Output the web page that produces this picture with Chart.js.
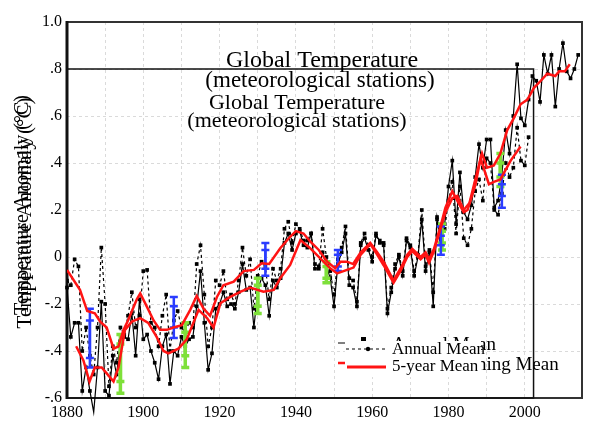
<!DOCTYPE html>
<html>
<head>
<meta charset="utf-8">
<script src="https://cdn.jsdelivr.net/npm/chart.js@4.4.0/dist/chart.umd.min.js"></script>
<style>
  html, body { margin: 0; padding: 0; background: #fff; }
  canvas { display: block; }
</style>
</head>
<body>
<canvas id="tempChart" width="593" height="438"></canvas>
<script>
// Values (old one ends ~2001, new one ~2014)
const firstYear = 1880;

// New chart, annual mean (solid line)
const newAnnual = [
  -0.13, -0.34, -0.28, -0.28, -0.57, -0.47, -0.57, -0.66, -0.47, -0.19,
  -0.57, -0.59, -0.42, -0.50, -0.36, -0.34, -0.35, -0.24, -0.42, -0.18,
  -0.35, -0.33, -0.40, -0.45, -0.52, -0.38, -0.33, -0.54, -0.40, -0.42,
  -0.34, -0.38, -0.35, -0.34, -0.21, -0.06, -0.28, -0.48, -0.41, -0.22,
  -0.20, -0.15, -0.21, -0.20, -0.22, -0.15, -0.03, -0.14, -0.13, -0.30,
  -0.14, -0.09, -0.12, -0.25, -0.10, -0.13, -0.09, 0.06, 0.10, 0.03,
  0.10, 0.11, 0.05, 0.04, 0.10, -0.05, -0.05, 0.02, -0.04, -0.09,
  -0.21, -0.03, 0.02, 0.10, -0.12, -0.13, -0.21, 0.05, 0.08, 0.03,
  -0.02, 0.09, 0.07, 0.05, -0.24, -0.15, -0.05, 0.00, -0.08, 0.07,
  0.04, -0.08, 0.00, 0.16, -0.06, 0.02, -0.21, 0.16, 0.07, 0.14,
  0.30, 0.41, 0.14, 0.36, 0.19, 0.16, 0.22, 0.34, 0.48, 0.38,
  0.50, 0.50, 0.21, 0.24, 0.35, 0.54, 0.44, 0.60, 0.82, 0.59,
  0.56, 0.67, 0.77, 0.75, 0.66, 0.86, 0.78, 0.86, 0.64, 0.80,
  0.91, 0.79, 0.76, 0.80, 0.86
];

// Old chart, annual mean (dashed line)
const oldAnnual = [
  -0.10, -0.12, -0.01, -0.04, -0.40, -0.30, -0.42, -0.50, -0.30, 0.04,
  -0.20, -0.55, -0.38, -0.45, -0.30, -0.33, -0.25, -0.15, -0.30, -0.25,
  -0.06, -0.055, -0.28, -0.30, -0.38, -0.25, -0.16, -0.40, -0.27, -0.23,
  -0.30, -0.32, -0.28, -0.30, -0.03, 0.05, -0.16, -0.38, -0.30, -0.10,
  -0.12, -0.06, -0.18, -0.16, -0.20, -0.10, 0.04, -0.08, -0.01, -0.22,
  -0.08, -0.02, -0.04, -0.18, -0.05, -0.10, -0.05, 0.12, 0.15, 0.06,
  0.14, 0.12, 0.07, 0.07, 0.10, -0.03, -0.04, 0.12, 0.00, -0.06,
  -0.16, -0.01, 0.04, 0.13, -0.09, -0.10, -0.19, 0.06, 0.10, 0.05,
  0.00, 0.10, 0.06, 0.06, -0.22, -0.13, -0.03, 0.01, -0.06, 0.08,
  0.05, -0.06, 0.01, 0.20, -0.04, 0.03, -0.15, 0.17, 0.08, 0.12,
  0.24, 0.32, 0.10, 0.30, 0.08, 0.05, 0.12, 0.28, 0.33, 0.24,
  0.42, 0.40, 0.20, 0.18, 0.27, 0.40, 0.34, 0.38, 0.55, 0.41,
  0.39, 0.51
];

// 5-year means, read as (year, value) pairs along each red curve
const newMeanYears = [
  1882.4, 1884.3, 1885.9, 1887.3, 1889.1, 1890.4, 1892.2, 1893.5, 1895.2, 1897,
  1899.2, 1901.3, 1903.5, 1905.3, 1906.6, 1909.2, 1911.4, 1914.5, 1916.7, 1918.4,
  1920.2, 1922.8, 1925.4, 1928, 1931.5, 1934.2, 1935.9, 1938.5, 1940.3, 1941.2,
  1943.8, 1946.4, 1949, 1950.8, 1953.4, 1955.1, 1957, 1959.5, 1961.3, 1963,
  1965.6, 1967.4, 1969.2, 1970.5, 1972.7, 1974, 1974.9, 1976.2, 1977.9, 1979.2,
  1981, 1982.3, 1984, 1985.5, 1987.5, 1988.8, 1990.1, 1991.9, 1993.6, 1995.4,
  1997.1, 1998.9, 2000.7, 2002.4, 2004.2, 2005.9, 2008, 2009, 2010.5, 2011.8
];
const newMeanValues = [
  -0.38, -0.44, -0.53, -0.47, -0.47, -0.495, -0.53, -0.47, -0.31, -0.275,
  -0.26, -0.28, -0.34, -0.40, -0.41, -0.39, -0.35, -0.225, -0.26, -0.30,
  -0.197, -0.17, -0.148, -0.13, -0.148, -0.14, -0.09, -0.034, 0.037, 0.072,
  0.037, -0.006, -0.048, -0.07, -0.055, -0.045, 0.01, 0.055, 0.01, -0.035,
  -0.11, -0.06, 0.0, 0.025, -0.01, 0.01, -0.025, 0.025, 0.12, 0.19,
  0.25, 0.26, 0.20, 0.23, 0.36, 0.44, 0.38, 0.39, 0.44, 0.54,
  0.59, 0.65, 0.67, 0.72, 0.75, 0.78, 0.77, 0.79, 0.79, 0.82
];

const oldMeanYears = [
  1880, 1883.4, 1885.3, 1887.3, 1888.7, 1890.4, 1892.2, 1893.5, 1894.8, 1896,
  1898.3, 1899.2, 1900.9, 1902.7, 1904.4, 1906.2, 1907.9, 1910.1, 1912.3, 1914,
  1915.8, 1917.5, 1919.3, 1921, 1923.7, 1926.3, 1929, 1931, 1933, 1935.9,
  1938.5, 1940, 1942, 1943.8, 1946, 1948.2, 1950.3, 1951.7, 1953.4, 1955,
  1957, 1959.5, 1961.3, 1963, 1965.6, 1967.4, 1969.2, 1970.5, 1972.7, 1974,
  1974.9, 1976.2, 1977.9, 1979.2, 1981, 1982.3, 1984, 1985, 1987.1, 1988.4,
  1990.6, 1991.9, 1993.6, 1996.3, 1998.9
];
const oldMeanValues = [
  -0.055, -0.14, -0.23, -0.24, -0.275, -0.30, -0.39, -0.38, -0.31, -0.27,
  -0.18, -0.155, -0.21, -0.27, -0.31, -0.31, -0.30, -0.29, -0.225, -0.166,
  -0.22, -0.25, -0.17, -0.12, -0.105, -0.06, -0.055, -0.027, -0.03, 0.037,
  0.086, 0.11, 0.10, 0.065, 0.03, -0.02, -0.048, -0.02, -0.02, -0.03,
  0.02, 0.06, 0.02, -0.02, -0.10, -0.05, 0.01, 0.035, 0.0, 0.02,
  -0.01, 0.035, 0.13, 0.21, 0.28, 0.24, 0.19, 0.20, 0.31, 0.42,
  0.31, 0.32, 0.33, 0.41, 0.47
];

// Error bars (two overlapping bars at each spot)
const blueBarYears = [1886, 1908, 1932, 1951, 1978, 1994];
const blueHighA = [-0.22, -0.17, 0.06, 0.03, 0.13, 0.35];
const blueLowA  = [-0.43, -0.30, -0.05, -0.04, 0.05, 0.26];
const blueHighB = [-0.27, -0.21, 0.03, 0.01, 0.09, 0.31];
const blueLowB  = [-0.47, -0.345, -0.08, -0.06, 0.01, 0.21];
const greenBarYears = [1894, 1911, 1930, 1948, 1978.3, 1993.6];
const greenHighA = [-0.33, -0.28, -0.09, -0.02, 0.14, 0.44];
const greenLowA  = [-0.53, -0.42, -0.21, -0.09, 0.06, 0.34];
const greenHighB = [-0.37, -0.32, -0.12, -0.04, 0.11, 0.40];
const greenLowB  = [-0.58, -0.47, -0.24, -0.11, 0.03, 0.30];

// Axes
const xTickLabels = [1880, 1900, 1920, 1940, 1960, 1980, 2000];
const yTickLabels = ['-.6', '-.4', '-.2', '0', '.2', '.4', '.6', '.8', '1.0'];
const innerFrameEnd = 2002.3;   // right edge of the old chart's box
const innerFrameTop = 0.8;      // top edge of the old chart's box

const serif = '"Liberation Serif", "DejaVu Serif", serif';
const RED = '#ff1414';

function toPoints(start, values) {
  return values.map((v, i) => ({ x: start + i, y: v }));
}
function toPairs(xs, ys) {
  return xs.map((x, i) => ({ x: x, y: ys[i] }));
}

function drawBars(ctx, xs, ys, years, hi, lo, color, width) {
  ctx.strokeStyle = color;
  ctx.lineWidth = width;
  years.forEach((yr, i) => {
    const px = xs.getPixelForValue(yr);
    const top = ys.getPixelForValue(hi[i]);
    const bot = ys.getPixelForValue(lo[i]);
    ctx.beginPath();
    ctx.moveTo(px, top); ctx.lineTo(px, bot);
    ctx.moveTo(px - 4, top); ctx.lineTo(px + 4, top);
    ctx.moveTo(px - 4, bot); ctx.lineTo(px + 4, bot);
    ctx.stroke();
  });
}

const overlayPlugin = {
  id: 'overlay',
  beforeDatasetsDraw(chart) {
    const { ctx, chartArea: a, scales: { x, y } } = chart;
    ctx.save();
    // outer box (new chart)
    ctx.strokeStyle = '#333';
    ctx.lineWidth = 2;
    ctx.strokeRect(a.left, a.top, a.right - a.left, a.bottom - a.top);
    // inner box (old chart)
    const ix = x.getPixelForValue(innerFrameEnd);
    const iy = y.getPixelForValue(innerFrameTop);
    ctx.strokeStyle = '#111';
    ctx.lineWidth = 1.5;
    ctx.strokeRect(a.left, iy, ix - a.left, a.bottom - iy);
    // heavy left axis
    ctx.lineWidth = 3;
    ctx.beginPath();
    ctx.moveTo(a.left, a.top - 1);
    ctx.lineTo(a.left, a.bottom + 1);
    ctx.stroke();

    // titles
    ctx.fillStyle = '#000';
    ctx.textAlign = 'center';
    ctx.textBaseline = 'alphabetic';
    ctx.font = '24px ' + serif;
    ctx.fillText('Global Temperature', 322, 67);
    ctx.font = '23px ' + serif;
    ctx.fillText('(meteorological stations)', 320, 87);
    ctx.font = '22px ' + serif;
    ctx.fillText('Global Temperature', 297, 109);
    ctx.fillText('(meteorological stations)', 297, 127);

    // y axis titles (both charts)
    ctx.textBaseline = 'middle';
    ctx.save();
    ctx.translate(25, 213);
    ctx.rotate(-Math.PI / 2);
    ctx.font = '21px ' + serif;
    ctx.fillText('Temperature Anomaly (°C)', 0, 0);
    ctx.restore();
    ctx.save();
    ctx.translate(23, 205);
    ctx.rotate(-Math.PI / 2);
    ctx.font = '20px ' + serif;
    ctx.fillText('Temperature Anomaly (°C)', 0, 0);
    ctx.restore();
    ctx.restore();
  },
  afterDatasetDraw(chart, args) {
    // error bars go above the black lines but under the red means
    if (args.index !== 2) return;
    const { ctx, scales: { x, y } } = chart;
    ctx.save();
    drawBars(ctx, x, y, greenBarYears, greenHighA, greenLowA, '#7ee03a', 3.5);
    drawBars(ctx, x, y, greenBarYears, greenHighB, greenLowB, '#7ee03a', 3.5);
    drawBars(ctx, x, y, blueBarYears, blueHighA, blueLowA, '#2a3cff', 2.5);
    drawBars(ctx, x, y, blueBarYears, blueHighB, blueLowB, '#2a3cff', 2.5);
    ctx.restore();
  },
  afterDraw(chart) {
    const { ctx } = chart;
    ctx.save();
    ctx.textAlign = 'left';
    ctx.textBaseline = 'alphabetic';
    ctx.fillStyle = '#000';
    // legend of the new chart (mostly hidden)
    ctx.strokeStyle = '#000';
    ctx.lineWidth = 1;
    ctx.beginPath(); ctx.moveTo(338, 343); ctx.lineTo(388, 343); ctx.stroke();
    ctx.fillRect(361, 337, 5, 5);
    ctx.strokeStyle = RED;
    ctx.lineWidth = 2.5;
    ctx.beginPath(); ctx.moveTo(338, 363); ctx.lineTo(388, 363); ctx.stroke();
    ctx.font = '19px ' + serif;
    ctx.fillText('Annual Mean', 392, 350);
    ctx.fillText('5-year Running Mean', 392, 370);
    // white box of the old chart's legend
    ctx.fillStyle = '#fff';
    ctx.fillRect(345, 341, 136, 36);
    // legend of the old chart
    ctx.strokeStyle = '#000';
    ctx.lineWidth = 1;
    ctx.setLineDash([3, 3]);
    ctx.beginPath(); ctx.moveTo(346, 349); ctx.lineTo(388, 349); ctx.stroke();
    ctx.setLineDash([]);
    ctx.fillStyle = '#000';
    ctx.beginPath(); ctx.arc(368, 349, 2.2, 0, Math.PI * 2); ctx.fill();
    ctx.strokeStyle = RED;
    ctx.lineWidth = 3;
    ctx.beginPath(); ctx.moveTo(347, 367); ctx.lineTo(386, 367); ctx.stroke();
    ctx.font = '17px ' + serif;
    ctx.fillText('Annual Mean', 392, 354);
    ctx.fillText('5-year Mean', 392, 371);
    ctx.restore();
  }
};

Chart.defaults.font.family = serif;
Chart.defaults.color = '#000';

const ctx = document.getElementById('tempChart').getContext('2d');
const tempChart = new Chart(ctx, {
  type: 'line',
  data: {
    datasets: [
      {
        label: '5-year Running Mean',
        data: toPairs(newMeanYears, newMeanValues),
        borderColor: RED,
        borderWidth: 2.5,
        pointRadius: 0,
        tension: 0
      },
      {
        label: '5-year Mean',
        data: toPairs(oldMeanYears, oldMeanValues),
        borderColor: RED,
        borderWidth: 2.5,
        pointRadius: 0,
        tension: 0
      },
      {
        label: 'Annual Mean (new)',
        data: toPoints(firstYear, newAnnual),
        borderColor: '#000',
        borderWidth: 1.2,
        pointStyle: 'rect',
        pointRadius: 2.6,
        pointBackgroundColor: '#000',
        pointBorderWidth: 0,
        clip: false,
        tension: 0
      },
      {
        label: 'Annual Mean (old)',
        data: toPoints(firstYear, oldAnnual),
        borderColor: '#000',
        borderWidth: 1.2,
        borderDash: [3, 3],
        pointStyle: 'rect',
        pointRadius: 2.6,
        pointBackgroundColor: '#000',
        pointBorderWidth: 0,
        tension: 0
      }
    ]
  },
  options: {
    responsive: false,
    animation: false,
    layout: { padding: { left: 0, right: 11, top: 22, bottom: 0 } },
    plugins: {
      legend: { display: false },
      tooltip: { enabled: false }
    },
    scales: {
      x: {
        type: 'linear',
        min: 1880,
        max: 2015,
        afterFit: s => { s.height = 40; },
        grid: { color: '#dadada', lineWidth: 1, drawTicks: false },
        border: { display: false, dash: [3, 3] },
        ticks: {
          stepSize: 10,
          autoSkip: false,
          maxRotation: 0,
          padding: 5,
          font: { size: 16, family: serif },
          color: '#000',
          callback: v => xTickLabels.includes(v) ? String(v) : ''
        }
      },
      y: {
        min: -0.6,
        max: 1.0,
        afterFit: s => { s.width = 67; },
        grid: { color: '#dadada', lineWidth: 1, drawTicks: false },
        border: { display: false, dash: [3, 3] },
        ticks: {
          stepSize: 0.2,
          padding: 5,
          font: { size: 16, family: serif },
          color: '#000',
          callback: v => yTickLabels[Math.round((v + 0.6) / 0.2)]
        }
      }
    }
  },
  plugins: [overlayPlugin]
});
</script>
</body>
</html>
